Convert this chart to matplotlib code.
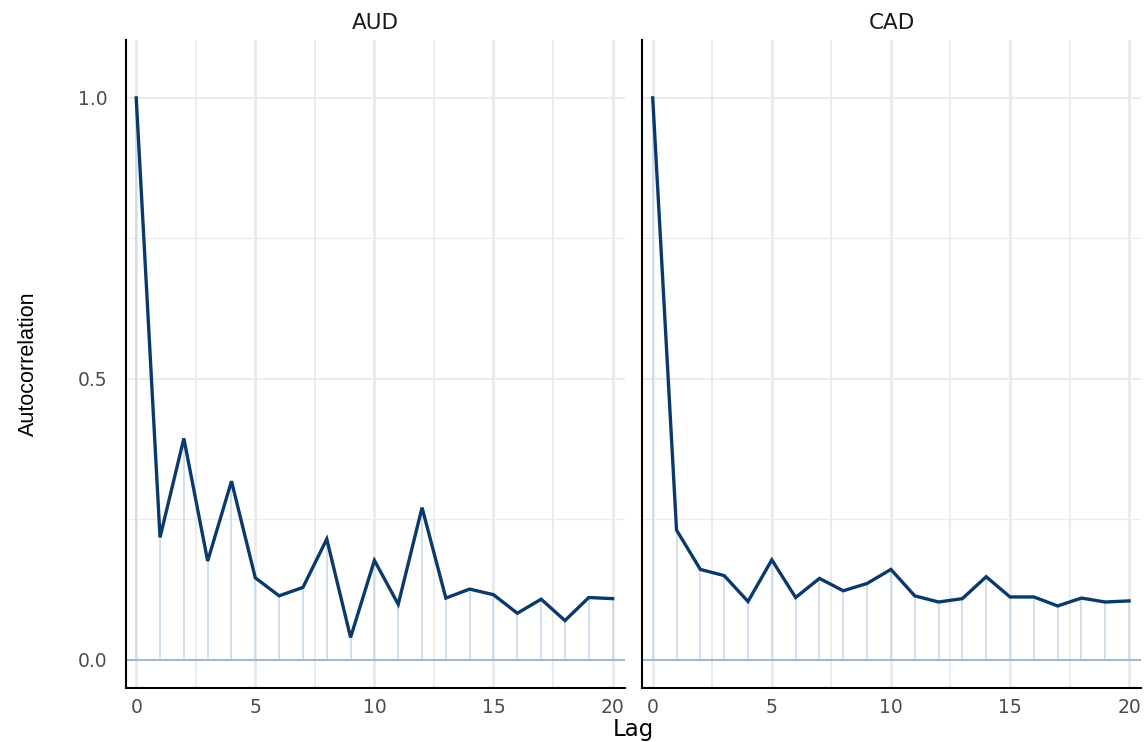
import matplotlib
matplotlib.use("Agg")
import matplotlib.pyplot as plt
from matplotlib.ticker import FixedLocator

lags = list(range(21))
panels = ["AUD", "CAD"]
acf_aud = [1.0, 0.218, 0.394, 0.176, 0.318, 0.146, 0.114, 0.129, 0.215, 0.040, 0.177,
           0.099, 0.271, 0.110, 0.126, 0.116, 0.083, 0.108, 0.070, 0.111, 0.109]
acf_cad = [1.0, 0.231, 0.161, 0.150, 0.104, 0.178, 0.111, 0.145, 0.123, 0.136, 0.161,
           0.114, 0.103, 0.109, 0.148, 0.112, 0.112, 0.096, 0.110, 0.103, 0.105]
series = [acf_aud, acf_cad]
x_ticks = [0, 5, 10, 15, 20]
y_ticks = [0.0, 0.5, 1.0]
y_tick_labels = ["0.0", "0.5", "1.0"]

W, H = 1147, 742
fig = plt.figure(figsize=(W / 100, H / 100), dpi=100)
fig.patch.set_facecolor("white")

line_col = "#0a3a6c"
stem_col = "#c9dcea"
zero_col = "#9fb8cb"
grid_col = "#ebebeb"
tick_col = "#4d4d4d"

lefts = [125.5, 642]
width_px = 499
top_px, bottom_px = 40, 688

for i, (name, vals) in enumerate(zip(panels, series)):
    ax = fig.add_axes([lefts[i] / W, 1 - bottom_px / H, width_px / W, (bottom_px - top_px) / H])
    ax.set_xlim(-0.45, 20.5)
    ax.set_ylim(-0.05, 1.103)
    ax.xaxis.set_major_locator(FixedLocator(x_ticks))
    ax.xaxis.set_minor_locator(FixedLocator([2.5, 7.5, 12.5, 17.5]))
    ax.yaxis.set_major_locator(FixedLocator(y_ticks))
    ax.yaxis.set_minor_locator(FixedLocator([0.25, 0.75]))
    ax.grid(True, which="major", axis="x", color=grid_col, lw=2.2, zorder=0)
    ax.grid(True, which="minor", axis="x", color=grid_col, lw=1.3, zorder=0)
    ax.grid(True, which="major", axis="y", color=grid_col, lw=1.5, zorder=0)
    ax.grid(True, which="minor", axis="y", color=grid_col, lw=0.8, zorder=0)
    ax.set_axisbelow(True)
    for s in ["top", "right"]:
        ax.spines[s].set_visible(False)
    for s in ["left", "bottom"]:
        ax.spines[s].set_color("black")
        ax.spines[s].set_linewidth(1.5)
    ax.tick_params(which="both", length=0)
    ax.tick_params(axis="x", pad=7, labelsize=13.5, labelcolor=tick_col)
    ax.tick_params(axis="y", pad=13, labelsize=13.5, labelcolor=tick_col)
    ax.set_xticklabels([str(t) for t in x_ticks])
    if i == 0:
        ax.set_yticklabels(y_tick_labels)
    else:
        ax.set_yticklabels([])

    ax.vlines(lags, 0, vals, color=stem_col, lw=1.2, zorder=2)
    ax.axhline(0, color=zero_col, lw=1.4, zorder=2)
    ax.plot(lags, vals, color=line_col, lw=2.4, zorder=3, solid_joinstyle="miter")

    cx = (lefts[i] + width_px / 2) / W
    fig.text(cx, 1 - 23 / H, name, ha="center", va="center", fontsize=15.5, color="#1a1a1a")

fig.text((125.5 + 1141) / 2 / W, 1 - 718 / H, "Lag", ha="center", va="top", fontsize=16.5, color="black")
fig.text(28 / W, 1 - 364 / H, "Autocorrelation", ha="center", va="center", rotation=90,
         fontsize=15.5, family="Liberation Sans", color="black")

fig.savefig("out.png", dpi=100, facecolor="white")
